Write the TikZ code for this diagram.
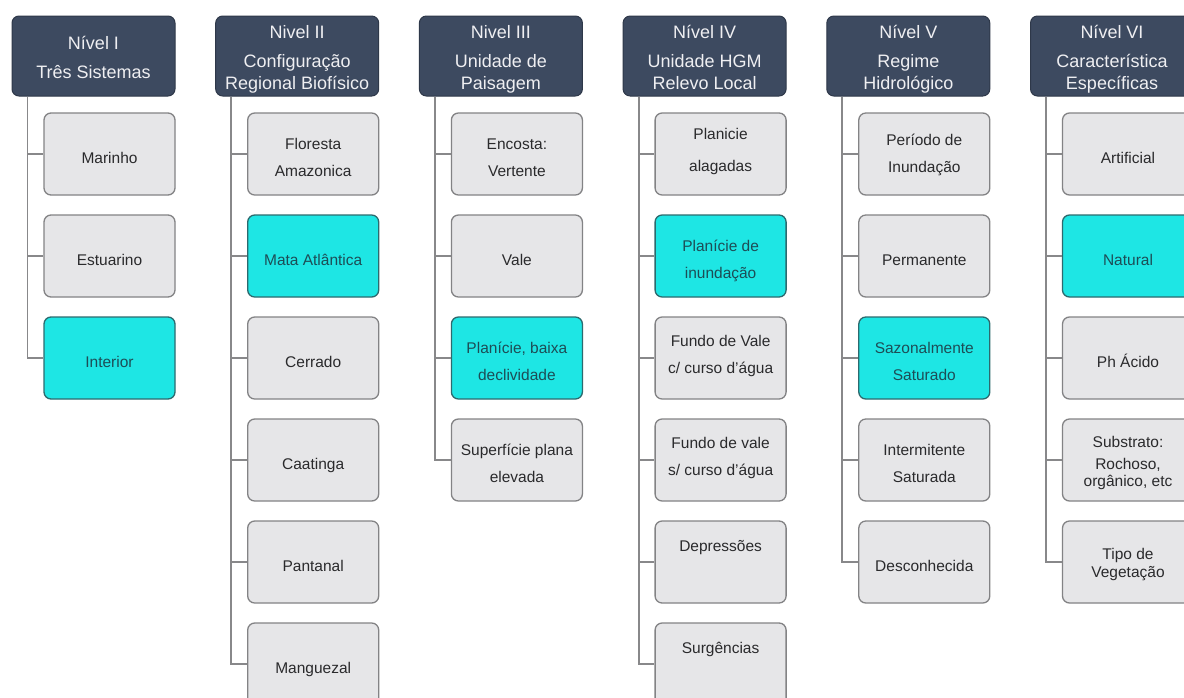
\documentclass[tikz,border=0pt]{standalone}
\usepackage{fontspec}
\newfontfamily\arialf{Liberation Sans}
\definecolor{hdrfill}{HTML}{3D4A60}
\definecolor{hdrborder}{HTML}{2E3849}
\definecolor{hdrtext}{HTML}{EFEFF2}
\definecolor{boxfill}{HTML}{E6E6E8}
\definecolor{boxborder}{HTML}{838385}
\definecolor{boxtext}{HTML}{2A2A2C}
\definecolor{selfill}{HTML}{1EE6E4}
\definecolor{selborder}{HTML}{2C6A6E}
\definecolor{seltext}{HTML}{1D4D56}
\definecolor{conncolor}{HTML}{88888A}
\newlength\topH \setlength\topH{23pt}
\newlength\botD \setlength\botD{5pt}
\tikzset{
  toph/.code={\setlength\topH{#1}},
  botd/.code={\setlength\botD{#1}},
  hdr/.style={draw=hdrborder, fill=hdrfill, rounded corners=7pt, minimum width=163pt,
    minimum height=80pt, inner sep=0pt, text=hdrtext, align=center, line width=1pt,
    font=\arialf\fontsize{18}{22}\selectfont, toph=70pt, botd=4pt,
    execute at begin node={\rule{0pt}{\topH}},
    execute at end node={\rule[-\botD]{0pt}{\botD}}},
  itembox/.style={draw=boxborder, fill=boxfill, rounded corners=7pt, minimum width=131pt,
    minimum height=82pt, inner sep=0pt, text=boxtext, align=center, line width=1.3pt,
    font=\arialf\fontsize{15.5}{27}\selectfont,
    execute at begin node={\rule{0pt}{\topH}},
    execute at end node={\rule[-\botD]{0pt}{\botD}}},
  selbox/.style={itembox, fill=selfill, draw=selborder, text=seltext},
  one/.style={toph=24pt},
  two/.style={toph=50pt},
  conn/.style={draw=conncolor, line width=1.8pt},
}
\begin{document}
\begin{tikzpicture}[x=1pt,y=-1pt]
\clip (0,0) rectangle (1184,697);
\fill[white] (0,0) rectangle (1184,697);
% headers
\node[hdr, toph=48pt] (h1) at (93.5,56) {Nível I\\[7pt]Três Sistemas};
\node[hdr] (h2) at (297.2,56) {Nivel II\\[7pt]Configuração\\Regional Biofísico};
\node[hdr] (h3) at (500.9,56) {Nivel III\\[7pt]Unidade de\\Paisagem};
\node[hdr] (h4) at (704.6,56) {Nível IV\\[7pt]Unidade HGM\\Relevo Local};
\node[hdr] (h5) at (908.3,56) {Nível V\\[7pt]Regime\\Hidrológico};
\node[hdr] (h6) at (1112,56) {Nível VI\\[7pt]Característica\\Específicas};
% column I
\node[itembox, one] (c11) at (109.5,154) {Marinho};
\node[itembox, one] (c12) at (109.5,256) {Estuarino};
\node[selbox, one]  (c13) at (109.5,358) {Interior};
% column II
\node[itembox, two] (c21) at (313.2,154) {Floresta\\Amazonica};
\node[selbox, one]  (c22) at (313.2,256) {Mata Atlântica};
\node[itembox, one] (c23) at (313.2,358) {Cerrado};
\node[itembox, one] (c24) at (313.2,460) {Caatinga};
\node[itembox, one] (c25) at (313.2,562) {Pantanal};
\node[itembox, one] (c26) at (313.2,664) {Manguezal};
% column III
\node[itembox, two] (c31) at (516.9,154) {Encosta:\\Vertente};
\node[itembox, one] (c32) at (516.9,256) {Vale};
\node[selbox, two]  (c33) at (516.9,358) {Planície, baixa\\declividade};
\node[itembox, two] (c34) at (516.9,460) {Superfície plana\\elevada};
% column IV
\node[itembox, toph=46pt, botd=11pt] (c41) at (720.6,154) {Planicie\\[5pt]alagadas};
\node[selbox, two]  (c42) at (720.6,256) {Planície de\\inundação};
\node[itembox, toph=46pt, botd=14.5pt] (c43) at (720.6,358) {Fundo de Vale\\c/ curso d’água};
\node[itembox, toph=46pt, botd=14.5pt] (c44) at (720.6,460) {Fundo de vale\\s/ curso d’água};
\node[itembox, one, botd=46pt] (c45) at (720.6,562) {Depressões};
\node[itembox, one, botd=46pt] (c46) at (720.6,664) {Surgências};
% column V
\node[itembox, toph=46pt, botd=9pt] (c51) at (924.3,154) {Período de\\Inundação};
\node[itembox, one] (c52) at (924.3,256) {Permanente};
\node[selbox, two]  (c53) at (924.3,358) {Sazonalmente\\Saturado};
\node[itembox, two] (c54) at (924.3,460) {Intermitente\\Saturada};
\node[itembox, one] (c55) at (924.3,562) {Desconhecida};
% column VI
\node[itembox, one] (c61) at (1128,154) {Artificial};
\node[selbox, one]  (c62) at (1128,256) {Natural};
\node[itembox, one] (c63) at (1128,358) {Ph Ácido};
\node[itembox, toph=57pt, font=\arialf\fontsize{15.5}{17}\selectfont] (c64) at (1128,460) {Substrato:\\[5pt]Rochoso,\\orgânico, etc};
\node[itembox, toph=35pt, font=\arialf\fontsize{15.5}{18}\selectfont] (c65) at (1128,562) {Tipo de\\Vegetação};
% connectors
\foreach \h/\c in {h1/c11,h1/c12,h1/c13,
  h2/c21,h2/c22,h2/c23,h2/c24,h2/c25,h2/c26,
  h3/c31,h3/c32,h3/c33,h3/c34,
  h4/c41,h4/c42,h4/c43,h4/c44,h4/c45,h4/c46,
  h5/c51,h5/c52,h5/c53,h5/c54,h5/c55,
  h6/c61,h6/c62,h6/c63,h6/c64,h6/c65}
  \draw[conn] ([xshift=16pt,yshift=-0.5pt]\h.south west) |- (\c.west);
\end{tikzpicture}
\end{document}
